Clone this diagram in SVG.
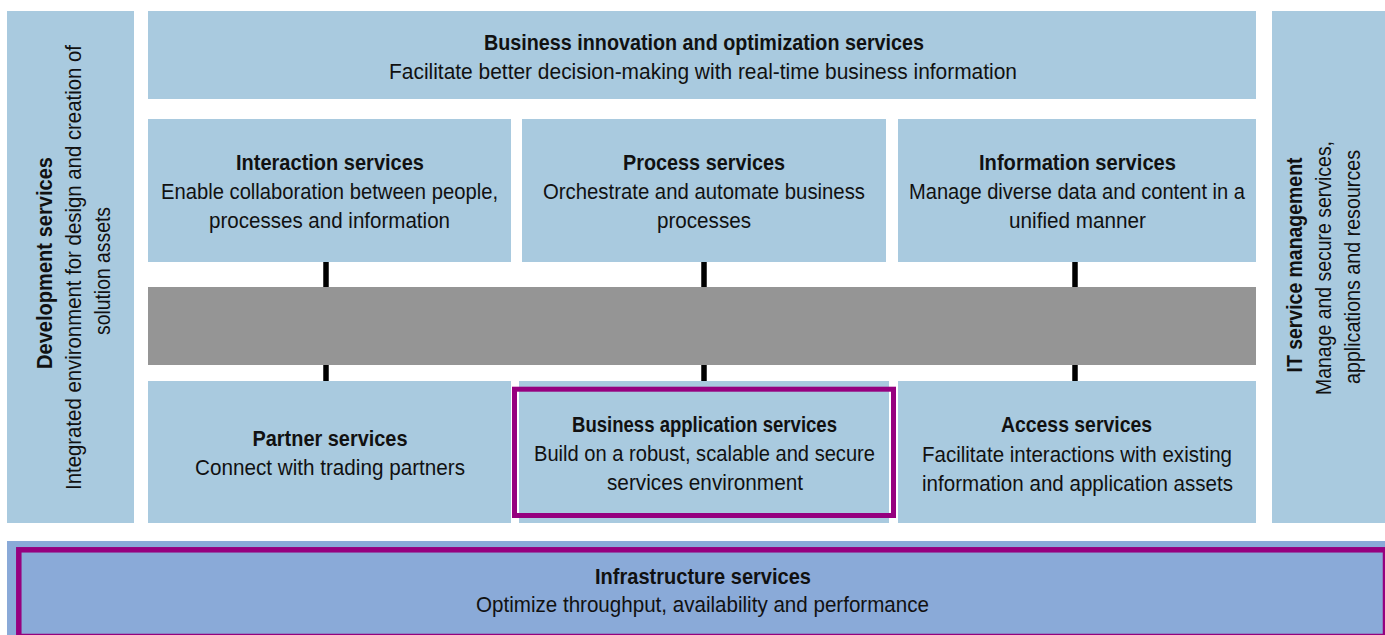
<svg xmlns="http://www.w3.org/2000/svg" width="1385" height="635" viewBox="0 0 1385 635">
<style>
.box{fill:#a9cadf}
.bar{fill:#959595}
.infra{fill:#8aaad8}
.hl{fill:none;stroke:#96007f}
.conn{stroke:#000;stroke-width:5.5}
text{font-family:"Liberation Sans",Arial,sans-serif;font-size:22px;fill:#111;text-anchor:middle}
.b{font-weight:bold}
</style>
<rect width="1385" height="635" fill="#fff"/>
<g id="development">
<rect class="box" x="7" y="11" width="127" height="512"/>
<text class="b" transform="translate(52,263) rotate(-90)" textLength="212" lengthAdjust="spacingAndGlyphs">Development services</text>
<text transform="translate(81,267.5) rotate(-90)" textLength="445" lengthAdjust="spacingAndGlyphs">Integrated environment for design and creation of</text>
<text transform="translate(110,271) rotate(-90)" textLength="128" lengthAdjust="spacingAndGlyphs">solution assets</text>
</g>
<g id="itservice">
<rect class="box" x="1272" y="11" width="113" height="512"/>
<text class="b" transform="translate(1302,265) rotate(-90)" textLength="215" lengthAdjust="spacingAndGlyphs">IT service management</text>
<text transform="translate(1331,268) rotate(-90)" textLength="254" lengthAdjust="spacingAndGlyphs">Manage and secure services,</text>
<text transform="translate(1360,267) rotate(-90)" textLength="234" lengthAdjust="spacingAndGlyphs">applications and resources</text>
</g>
<g id="innovation">
<rect class="box" x="148" y="11" width="1108" height="88"/>
<text class="b" x="704" y="50" textLength="440" lengthAdjust="spacingAndGlyphs">Business innovation and optimization services</text>
<text x="703" y="79" textLength="628" lengthAdjust="spacingAndGlyphs">Facilitate better decision-making with real-time business information</text>
</g>
<g id="interaction">
<rect class="box" x="148" y="119" width="363" height="143"/>
<text class="b" x="330" y="170" textLength="188" lengthAdjust="spacingAndGlyphs">Interaction services</text>
<text x="329.5" y="199" textLength="337" lengthAdjust="spacingAndGlyphs">Enable collaboration between people,</text>
<text x="329.5" y="228" textLength="241" lengthAdjust="spacingAndGlyphs">processes and information</text>
</g>
<g id="process">
<rect class="box" x="522" y="119" width="364" height="143"/>
<text class="b" x="704" y="170" textLength="162" lengthAdjust="spacingAndGlyphs">Process services</text>
<text x="704" y="199" textLength="322" lengthAdjust="spacingAndGlyphs">Orchestrate and automate business</text>
<text x="704" y="228" textLength="94" lengthAdjust="spacingAndGlyphs">processes</text>
</g>
<g id="information">
<rect class="box" x="898" y="119" width="358" height="143"/>
<text class="b" x="1077.5" y="170" textLength="197" lengthAdjust="spacingAndGlyphs">Information services</text>
<text x="1077" y="199" textLength="336" lengthAdjust="spacingAndGlyphs">Manage diverse data and content in a</text>
<text x="1077.5" y="228" textLength="137" lengthAdjust="spacingAndGlyphs">unified manner</text>
</g>
<g id="bus">
<rect class="bar" x="148" y="287" width="1108" height="78"/>
</g>
<g id="connectors">
<line class="conn" x1="326" y1="262" x2="326" y2="287"/>
<line class="conn" x1="704" y1="262" x2="704" y2="287"/>
<line class="conn" x1="1075" y1="262" x2="1075" y2="287"/>
<line class="conn" x1="326" y1="365" x2="326" y2="381"/>
<line class="conn" x1="704" y1="365" x2="704" y2="381"/>
<line class="conn" x1="1075" y1="365" x2="1075" y2="381"/>
</g>
<g id="partner">
<rect class="box" x="148" y="381" width="363" height="142"/>
<text class="b" x="330" y="446" textLength="155" lengthAdjust="spacingAndGlyphs">Partner services</text>
<text x="330" y="475" textLength="270" lengthAdjust="spacingAndGlyphs">Connect with trading partners</text>
</g>
<g id="businessapp">
<rect class="box" x="519" y="381" width="370" height="142"/>
<rect class="hl" x="514.5" y="389.2" width="379" height="126.3" stroke-width="5"/>
<text class="b" x="704.5" y="432" textLength="265" lengthAdjust="spacingAndGlyphs">Business application services</text>
<text x="704.5" y="461" textLength="341" lengthAdjust="spacingAndGlyphs">Build on a robust, scalable and secure</text>
<text x="705" y="490" textLength="196" lengthAdjust="spacingAndGlyphs">services environment</text>
</g>
<g id="access">
<rect class="box" x="898" y="381" width="358" height="142"/>
<text class="b" x="1076.5" y="432" textLength="151" lengthAdjust="spacingAndGlyphs">Access services</text>
<text x="1077" y="462" textLength="310" lengthAdjust="spacingAndGlyphs">Facilitate interactions with existing</text>
<text x="1077.5" y="491" textLength="311" lengthAdjust="spacingAndGlyphs">information and application assets</text>
</g>
<g id="infrastructure">
<rect class="infra" x="7" y="541" width="1378" height="94"/>
<rect class="hl" x="18.8" y="549.8" width="1366.7" height="86.7" stroke-width="5.5"/>
<text class="b" x="703" y="584" textLength="216" lengthAdjust="spacingAndGlyphs">Infrastructure services</text>
<text x="702.5" y="612" textLength="453" lengthAdjust="spacingAndGlyphs">Optimize throughput, availability and performance</text>
</g>
</svg>
